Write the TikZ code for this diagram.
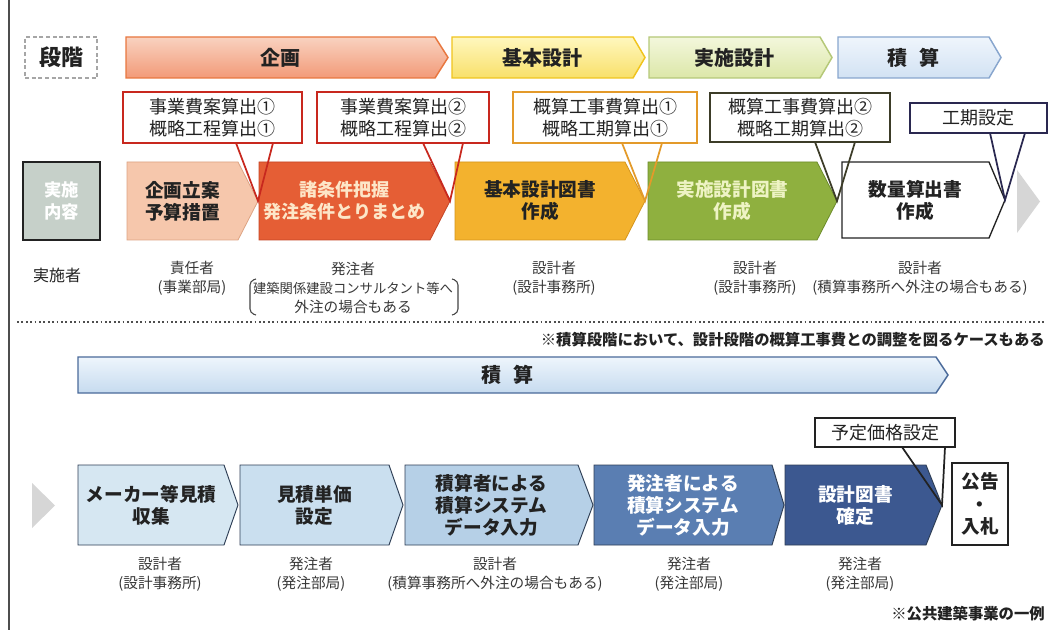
\documentclass[tikz,border=0pt]{standalone}
\usepackage{fontspec}
\setmainfont{Noto Sans CJK JP}
\definecolor{kkT}{HTML}{F9D2C0}\definecolor{kkB}{HTML}{F29A78}\definecolor{kkD}{HTML}{E8773F}
\definecolor{kiT}{HTML}{FFF7BE}\definecolor{kiB}{HTML}{F8E06A}\definecolor{kiD}{HTML}{F0C41E}
\definecolor{jsT}{HTML}{F3F7DC}\definecolor{jsB}{HTML}{DCE7A8}\definecolor{jsD}{HTML}{B5C878}
\definecolor{skT}{HTML}{EFF5FC}\definecolor{skB}{HTML}{D2E2F3}\definecolor{skD}{HTML}{88A6CE}
\definecolor{bgT}{HTML}{EEF5FC}\definecolor{bgB}{HTML}{C6DBEF}\definecolor{bgD}{HTML}{4A6A9A}
\definecolor{p1}{HTML}{F6C7AC}\definecolor{p1d}{HTML}{DDA484}
\definecolor{p2}{HTML}{E55E35}\definecolor{p2d}{HTML}{C44526}\definecolor{p2t}{HTML}{FDE6C8}
\definecolor{p3}{HTML}{F3B22E}\definecolor{p3d}{HTML}{D4951C}
\definecolor{p4}{HTML}{8FB03F}\definecolor{p4d}{HTML}{6C8C2A}\definecolor{p4t}{HTML}{EEF3C4}
\definecolor{jn}{HTML}{C6D0C9}
\definecolor{b1}{HTML}{D6E7F2}\definecolor{b2}{HTML}{CADFEF}\definecolor{b3}{HTML}{B6D0E7}
\definecolor{b4}{HTML}{5A7EB2}\definecolor{b5}{HTML}{3C5890}\definecolor{bd}{HTML}{2E3E55}
\definecolor{cRed}{HTML}{C8281E}\definecolor{cOrg}{HTML}{E39A2A}\definecolor{cOlv}{HTML}{3C3C28}
\definecolor{cNav}{HTML}{2A2850}\definecolor{gry}{HTML}{D6D6D6}\definecolor{ink}{HTML}{222222}
\newcommand{\chev}[9]{%
  \path[#7] (#2,#4) -- ({#3-#6},#4) -- (#3,{(#4+#5)/2}) -- ({#3-#6},#5) -- (#2,#5) -- cycle;
  \node[#8] (#1) at ({(#2+#3-#6)/2},{(#4+#5)/2}) {#9};
  \coordinate (#1-tip) at (#3,{(#4+#5)/2});
}
\newcommand{\callout}[7]{%
  \node[draw=#6, fill=white, line width=1.3pt, inner sep=0pt, ctxt,
        minimum width={(#4-#2)*0.75pt}, minimum height={(#5-#3)*0.75pt}]
        (#1) at ({(#2+#4)/2},{(#3+#5)/2}) {#7};
}
\tikzset{
  hdr/.style={font=\fontsize{15}{18}\selectfont\bfseries, text=ink},
  btxt/.style={font=\fontsize{14}{16.5}\selectfont\bfseries, align=center, text=ink},
  ctxt/.style={font=\fontsize{13.5}{16.5}\selectfont, align=center, text=ink},
  lbl/.style={font=\fontsize{11}{14}\selectfont, align=center, text=ink!90},
  tailline/.style={line width=1.3pt}
}
\begin{document}
\begin{tikzpicture}[x=0.75pt,y=-0.75pt]
\useasboundingbox (0,0) rectangle (1055,630);
\fill[white] (0,0) rectangle (1055,630);
% left frame line
\draw[line width=1.2pt, ink!80] (9,0) -- (9,630);

% ===== stage header row =====
\node[draw=gray!70, densely dashed, line width=0.8pt, minimum width=54pt, minimum height=30.75pt,
      font=\fontsize{16.5}{18}\selectfont\bfseries, text=ink] (dankai) at (61,57.5) {段階};
\chev{kikaku}{126}{448}{37}{78}{13}{draw=kkD, line width=1.1pt, top color=kkT, bottom color=kkB}{hdr}{企画}
\chev{kihon}{452}{645}{37}{78}{12}{draw=kiD, line width=1.1pt, top color=kiT, bottom color=kiB}{hdr}{基本設計}
\chev{jissi}{649}{832}{37}{78}{12}{draw=jsD, line width=1.1pt, top color=jsT, bottom color=jsB}{hdr}{実施設計}
\chev{sekisan}{838}{1001}{37}{78}{12}{draw=skD, line width=1.1pt, top color=skT, bottom color=skB}{hdr}{積\hspace{0.6em}算}

% ===== process row =====
\node[draw=ink, fill=jn, line width=1pt, minimum width=57.75pt, minimum height=58.5pt,
      font=\fontsize{13}{16}\selectfont\bfseries, text=white, align=center] (naiyou) at (61.5,201) {実施\\内容};
\chev{pA}{127}{258}{162}{240}{20}{fill=p1, draw=p1d, line width=0.6pt}{btxt}{企画立案\\予算措置}
\chev{pB}{259}{450}{162}{240}{20}{fill=p2, draw=p2d, line width=0.6pt}{btxt, text=p2t, font=\fontsize{13.5}{16.5}\selectfont\bfseries}{諸条件把握\\発注条件とりまとめ}
\chev{pC}{455}{645}{162}{240}{20}{fill=p3, draw=p3d, line width=0.6pt}{btxt}{基本設計図書\\作成}
\chev{pD}{648}{837}{162}{240}{20}{fill=p4, draw=p4d, line width=0.6pt}{btxt, text=p4t}{実施設計図書\\作成}
\chev{pE}{842}{1005}{162}{238}{16}{fill=white, draw=ink, line width=1pt}{btxt}{数量算出書\\作成}
\chev{gA}{1017}{1040}{170}{233}{23}{fill=gry, draw=none}{inner sep=0pt}{}

% ===== callouts (top) =====
\callout{c1}{123}{92}{302}{143}{cRed}{事業費案算出①\\概略工程算出①}
\callout{c2}{317}{92}{489}{143}{cRed}{事業費案算出②\\概略工程算出②}
\callout{c3}{513}{92}{697}{143}{cOrg}{概算工事費算出①\\概略工期算出①}
\callout{c4}{710}{93}{890}{142}{cOlv}{概算工事費算出②\\概略工期算出②}
\callout{c5}{910}{103}{1047}{133}{cNav}{工期設定}
\coordinate (c1a) at (236,143); \coordinate (c1b) at (273,143);
\coordinate (c2a) at (423,143); \coordinate (c2b) at (463,143);
\coordinate (c3a) at (622,143); \coordinate (c3b) at (662,143);
\coordinate (c4a) at (815,142); \coordinate (c4b) at (855,142);
\coordinate (c5a) at (990,133); \coordinate (c5b) at (1025,133);
\draw[tailline, cRed] (c1a) -- (pA-tip) -- (c1b);
\draw[tailline, cRed] (c2a) -- (pB-tip) -- (c2b);
\draw[tailline, cOrg] (c3a) -- (pC-tip) -- (c3b);
\draw[tailline, cOlv] (c4a) -- (pD-tip) -- (c4b);
\draw[tailline, cNav] (c5a) -- (pE-tip) -- (c5b);

% ===== actor labels (top) =====
\node[font=\fontsize{12}{14}\selectfont, text=ink] (jissisha) at (57,275) {実施者};
\node[lbl] (lA) at (192,278) {責任者\\(事業部局)};
\node[lbl] (lB) at (353,288) {発注者\\{\fontsize{10}{14}\selectfont 建築関係建設コンサルタント等へ}\\外注の場合もある};
\draw[line width=0.8pt, ink!85, rounded corners=3pt] (256,279) -- (250,281) -- (250,313) -- (256,315);
\draw[line width=0.8pt, ink!85, rounded corners=3pt] (452,279) -- (458,281) -- (458,313) -- (452,315);
\node[lbl] (lC) at (554,278) {設計者\\(設計事務所)};
\node[lbl] (lD) at (755,278) {設計者\\(設計事務所)};
\node[lbl] (lE) at (920,278) {設計者\\(積算事務所へ外注の場合もある)};

% ===== separator =====
\coordinate (sepL) at (17,322); \coordinate (sepR) at (1045,322);
\draw[line width=1.3pt, ink!80, dotted] (sepL) -- (sepR);
\node[anchor=east, font=\fontsize{11.5}{14}\selectfont\bfseries, text=ink, inner sep=0pt] (note) at (1045,340)
  {※積算段階において、設計段階の概算工事費との調整を図るケースもある};

% ===== big sekisan arrow =====
\chev{big}{78}{948}{357}{393}{12}{draw=bgD, line width=1.1pt, top color=bgT, bottom color=bgB}{hdr}{積\hspace{0.6em}算}

% ===== bottom row =====
\chev{gB}{32}{55}{483}{528}{23}{fill=gry, draw=none}{inner sep=0pt}{}
\chev{q1}{78}{238}{465}{545}{14}{fill=b1, draw=bd, line width=0.7pt}{btxt}{メーカー等見積\\収集}
\chev{q2}{240}{403}{465}{545}{14}{fill=b2, draw=bd, line width=0.7pt}{btxt}{見積単価\\設定}
\chev{q3}{405}{593}{465}{545}{15}{fill=b3, draw=bd, line width=0.7pt}{btxt}{積算者による\\積算システム\\データ入力}
\chev{q4}{594}{784}{465}{545}{12}{fill=b4, draw=bd, line width=0.7pt}{btxt, text=white}{発注者による\\積算システム\\データ入力}
\chev{q5}{785}{942}{465}{545}{16}{fill=b5, draw=bd, line width=0.7pt}{btxt, text=white}{設計図書\\確定}
\node[draw=ink, line width=1pt, fill=white, minimum width=42pt, minimum height=61.5pt, inner sep=0pt,
      font=\fontsize{14}{17}\selectfont\bfseries, text=ink, align=center] (kokoku) at (980,504) {公告\\・\\入札};
\callout{c6}{815}{418}{955}{447}{ink}{予定価格設定}
\coordinate (c6a) at (902,447); \coordinate (c6b) at (945,447);
\draw[tailline, ink] (c6a) -- (q5-tip) -- (c6b);

% ===== actor labels (bottom) =====
\node[lbl] (m1) at (160,574) {設計者\\(設計事務所)};
\node[lbl] (m2) at (311,574) {発注者\\(発注部局)};
\node[lbl] (m3) at (495,574) {設計者\\(積算事務所へ外注の場合もある)};
\node[lbl] (m4) at (689,574) {発注者\\(発注部局)};
\node[lbl] (m5) at (860,574) {発注者\\(発注部局)};
\node[anchor=east, font=\fontsize{11.5}{14}\selectfont\bfseries, text=ink, inner sep=0pt] (foot) at (1045,614) {※公共建築事業の一例};
\end{tikzpicture}
\end{document}
